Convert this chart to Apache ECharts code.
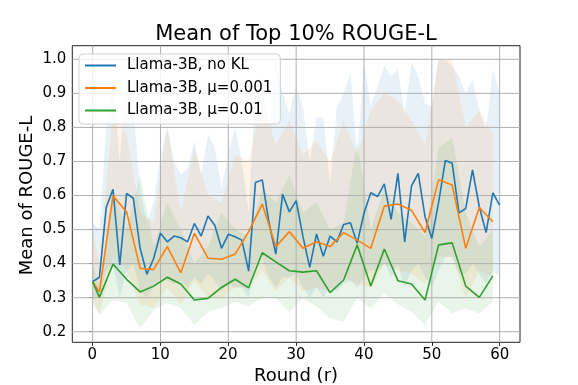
<!DOCTYPE html>
<html>
<head>
<meta charset="utf-8">
<script src="https://cdn.jsdelivr.net/npm/echarts@6/dist/echarts.min.js"></script>
<style>
  html, body { margin: 0; padding: 0; background: #fff; }
  #chart { width: 578px; height: 385px; }
</style>
</head>
<body>
<div id="chart"></div>
<script>
// rounds
const rounds = [0, 1, 2, 3, 4, 5, 6, 7, 8, 9, 10, 11, 12, 13, 14, 15, 16, 17, 18, 19, 20,
  21, 22, 23, 24, 25, 26, 27, 28, 29, 30, 31, 32, 33, 34, 35, 36, 37, 38, 39, 40,
  41, 42, 43, 44, 45, 46, 47, 48, 49, 50, 51, 52, 53, 54, 55, 56, 57, 58, 59, 60];
const roundsKL = [0, 1, 3, 5, 7, 9, 11, 13, 15, 17, 19, 21, 23, 25, 27, 29, 31, 33, 35, 37, 39,
  41, 43, 45, 47, 49, 51, 53, 55, 57, 59];

// Llama-3B, no KL
const noKL = [0.347, 0.360, 0.565, 0.618, 0.396, 0.606, 0.592, 0.445, 0.369, 0.416, 0.489,
  0.464, 0.481, 0.476, 0.464, 0.518, 0.481, 0.540, 0.513, 0.445, 0.486,
  0.479, 0.469, 0.378, 0.638, 0.646, 0.520, 0.428, 0.604, 0.552, 0.585,
  0.480, 0.389, 0.487, 0.422, 0.481, 0.464, 0.515, 0.520, 0.460, 0.548,
  0.608, 0.597, 0.634, 0.530, 0.665, 0.464, 0.628, 0.665, 0.538, 0.474,
  0.580, 0.703, 0.695, 0.549, 0.562, 0.675, 0.567, 0.491, 0.608, 0.572];
const noKLUpper = [0.52, 0.50, 0.80, 0.92, 0.70, 0.95, 0.85, 0.62, 0.52, 0.58, 0.72,
  0.80, 0.70, 0.66, 0.68, 0.76, 0.66, 0.78, 0.74, 0.62, 0.72,
  0.80, 0.70, 0.55, 0.92, 0.95, 0.80, 1.00, 0.90, 0.84, 0.92,
  0.86, 0.70, 0.83, 0.83, 0.63, 0.86, 0.90, 0.96, 0.72, 0.99,
  0.86, 0.92, 0.98, 0.95, 0.97, 0.84, 0.99, 0.95, 0.87, 0.86,
  1.00, 1.00, 0.98, 0.95, 0.90, 0.94, 0.85, 0.79, 0.97, 0.90];
const noKLLower = [0.30, 0.30, 0.38, 0.40, 0.30, 0.38, 0.40, 0.32, 0.30, 0.33, 0.36,
  0.35, 0.34, 0.35, 0.33, 0.36, 0.34, 0.37, 0.35, 0.32, 0.34,
  0.33, 0.33, 0.30, 0.40, 0.42, 0.36, 0.33, 0.36, 0.36, 0.37,
  0.33, 0.30, 0.33, 0.30, 0.33, 0.32, 0.34, 0.35, 0.33, 0.36,
  0.38, 0.38, 0.40, 0.36, 0.40, 0.33, 0.38, 0.40, 0.36, 0.33,
  0.38, 0.42, 0.42, 0.37, 0.37, 0.40, 0.37, 0.34, 0.38, 0.36];

// Llama-3B, mu=0.001
const mu001 = [0.347, 0.317, 0.599, 0.552, 0.386, 0.383, 0.450, 0.373, 0.489, 0.416, 0.413,
  0.428, 0.494, 0.575, 0.450, 0.494, 0.445, 0.464, 0.450, 0.491, 0.469,
  0.445, 0.569, 0.575, 0.557, 0.491, 0.646, 0.631, 0.445, 0.565, 0.523];
const mu001Upper = [0.50, 0.40, 0.85, 0.78, 0.55, 0.52, 0.80, 0.55, 0.74, 0.60, 0.58,
  0.72, 0.70, 0.88, 0.75, 0.82, 0.72, 0.76, 0.70, 0.82, 0.72,
  0.85, 0.90, 0.88, 0.82, 0.75, 1.00, 1.00, 0.80, 0.85, 0.78];
const mu001Lower = [0.30, 0.25, 0.42, 0.38, 0.28, 0.27, 0.33, 0.28, 0.35, 0.30, 0.30,
  0.33, 0.33, 0.38, 0.32, 0.36, 0.32, 0.33, 0.32, 0.36, 0.34,
  0.33, 0.40, 0.38, 0.37, 0.34, 0.42, 0.42, 0.30, 0.38, 0.36];

// Llama-3B, mu=0.01
const mu01 = [0.347, 0.301, 0.399, 0.354, 0.317, 0.334, 0.360, 0.340, 0.293, 0.298, 0.330,
  0.354, 0.329, 0.432, 0.405, 0.379, 0.375, 0.379, 0.315, 0.352, 0.455,
  0.334, 0.443, 0.350, 0.340, 0.293, 0.455, 0.461, 0.334, 0.301, 0.364];
const mu01Upper = [0.40, 0.34, 0.62, 0.50, 0.66, 0.45, 0.58, 0.50, 0.40, 0.45, 0.55,
  0.50, 0.48, 0.62, 0.58, 0.66, 0.55, 0.58, 0.50, 0.52, 0.76,
  0.50, 0.62, 0.55, 0.52, 0.48, 0.74, 0.77, 0.55, 0.45, 0.50];
const mu01Lower = [0.284, 0.249, 0.293, 0.284, 0.210, 0.264, 0.284, 0.270, 0.220, 0.259, 0.270,
  0.288, 0.275, 0.300, 0.300, 0.259, 0.298, 0.274, 0.239, 0.229, 0.298,
  0.270, 0.313, 0.280, 0.259, 0.220, 0.288, 0.254, 0.269, 0.254, 0.288];

const xTicks = [0, 10, 20, 30, 40, 50, 60];
const yTicks = [0.2, 0.3, 0.4, 0.5, 0.6, 0.7, 0.8, 0.9, 1.0];

const names = ['Llama-3B, no KL', 'Llama-3B, \u03bc=0.001', 'Llama-3B, \u03bc=0.01'];
const colors = ['#1f77b4', '#ff7f0e', '#2ca02c'];
const FONT = 'DejaVu Sans';

const pairs = (xs, ys) => xs.map((x, i) => [x, ys[i]]);

// shaded band drawn as one polygon through the axis scales
function band(key, xs, lower, upper, color) {
  return {
    type: 'custom', name: key, silent: true, z: 1,
    xAxisIndex: 0, yAxisIndex: 0,
    data: xs.map((x, i) => [x, lower[i], upper[i]]),
    encode: { x: 0, y: [1, 2] },
    renderItem(params, api) {
      if (params.dataIndex !== 0) return;
      const top = xs.map((x, i) => api.coord([x, upper[i]]));
      const bot = xs.map((x, i) => api.coord([x, lower[i]])).reverse();
      return {
        type: 'polygon',
        shape: { points: top.concat(bot) },
        style: { fill: color, opacity: 0.1 },
      };
    },
  };
}

function gridLines(ticks, vertical) {
  return {
    type: 'custom', silent: true, z: 2,
    xAxisIndex: 0, yAxisIndex: 0,
    data: ticks,
    encode: vertical ? { x: 0 } : { y: 0 },
    renderItem(params, api) {
      const cs = params.coordSys;
      const v = api.value(0);
      let shape;
      if (vertical) {
        const x = api.coord([v, 0.5])[0];
        shape = { x1: x, y1: cs.y, x2: x, y2: cs.y + cs.height };
      } else {
        const y = api.coord([0, v])[1];
        shape = { x1: cs.x, y1: y, x2: cs.x + cs.width, y2: y };
      }
      return { type: 'line', shape, style: { stroke: '#b0b0b0', lineWidth: 1 } };
    },
  };
}

function meanLine(name, xs, ys, color) {
  return {
    name, type: 'line', symbol: 'none', z: 3,
    xAxisIndex: 0, yAxisIndex: 0,
    data: pairs(xs, ys),
    lineStyle: { color, width: 1.6 },
    itemStyle: { color },
  };
}

const series = [
  band('b', rounds, noKLLower, noKLUpper, colors[0]),
  band('o', roundsKL, mu001Lower, mu001Upper, colors[1]),
  band('g', roundsKL, mu01Lower, mu01Upper, colors[2]),
  gridLines(xTicks, true),
  gridLines(yTicks, false),
  meanLine(names[0], rounds, noKL, colors[0]),
  meanLine(names[1], roundsKL, mu001, colors[1]),
  meanLine(names[2], roundsKL, mu01, colors[2]),
];

const option = {
  animation: false,
  backgroundColor: '#fff',
  textStyle: { fontFamily: FONT },
  title: {
    text: 'Mean of Top 10% ROUGE-L',
    left: 296, top: 24, textAlign: 'center', padding: 0,
    textStyle: { fontFamily: FONT, fontSize: 21, fontWeight: 'normal', color: '#000' },
  },
  legend: {
    data: names,
    orient: 'vertical',
    left: 79, top: 54,
    padding: [4, 8, 6, 6],
    icon: 'rect',
    itemWidth: 31, itemHeight: 2, itemGap: 7.5,
    backgroundColor: 'rgba(255,255,255,0.8)',
    borderColor: '#d0d0d0', borderWidth: 1, borderRadius: 4,
    textStyle: { fontFamily: FONT, fontSize: 15, color: '#000', lineHeight: 15, padding: [0, 0, 0, 6] },
  },
  grid: [
    { left: 72.3, right: 58, top: 45.7, bottom: 42.7, outerBoundsMode: 'none', containLabel: false,
      show: true, borderColor: '#222', borderWidth: 1, backgroundColor: 'transparent' },
    { left: 92.3, right: 78.3, top: 59.3, bottom: 53.3, outerBoundsMode: 'none', containLabel: false },
  ],
  xAxis: [
    { type: 'value', gridIndex: 0, min: -3, max: 63, show: false },
    {
      type: 'value', gridIndex: 1, min: 0, max: 60, interval: 10, offset: 10.6,
      name: 'Round (r)', nameLocation: 'middle', nameGap: 25, nameMoveOverlap: false,
      nameTextStyle: { fontFamily: FONT, fontSize: 18, color: '#000' },
      axisLine: { show: false },
      axisTick: { show: true, length: 3.5, lineStyle: { color: '#222' } },
      axisLabel: { fontFamily: FONT, fontSize: 15, color: '#000', margin: 5 },
      splitLine: { show: false },
    },
  ],
  yAxis: [
    { type: 'value', gridIndex: 0, min: 0.169, max: 1.04, show: false },
    {
      type: 'value', gridIndex: 1, min: 0.2, max: 1.0, interval: 0.1, offset: 20,
      name: 'Mean of ROUGE-L', nameLocation: 'middle', nameGap: 36, nameRotate: 90,
      nameMoveOverlap: false,
      nameTextStyle: { fontFamily: FONT, fontSize: 18, color: '#000' },
      axisLine: { show: false },
      axisTick: { show: true, length: 3.5, lineStyle: { color: '#222' } },
      axisLabel: { fontFamily: FONT, fontSize: 15, color: '#000', margin: 6, padding: [3, 0, 0, 0],
        formatter: v => v.toFixed(1) },
      splitLine: { show: false },
    },
  ],
  series,
};

const myChart = echarts.init(document.getElementById('chart'));
myChart.setOption(option);
</script>
</body>
</html>
